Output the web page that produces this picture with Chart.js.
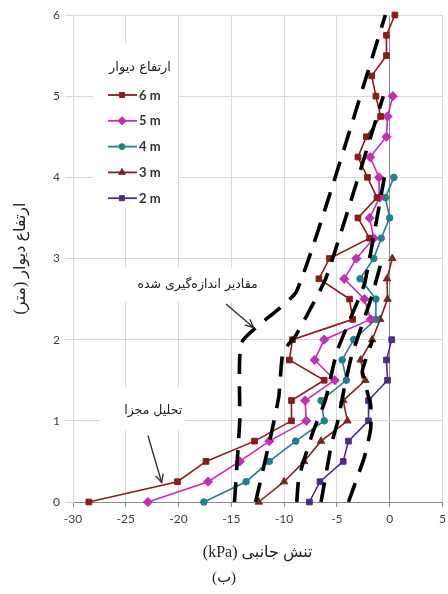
<!DOCTYPE html>
<html>
<head>
<meta charset="utf-8">
<script src="https://cdn.jsdelivr.net/npm/chart.js@4.4.1/dist/chart.umd.min.js"></script>
<style>
html,body{margin:0;padding:0;background:#fff;}
#wrap{width:448px;height:594px;position:relative;}
</style>
</head>
<body>
<div id="wrap"><canvas id="c" width="448" height="594"></canvas></div>
<script>
// ---- data (wall height in m on y, lateral stress in kPa on x) ----
const heightLevels = [0,0.25,0.5,0.75,1,1.25,1.5,1.75,2,2.25,2.5,2.75,3,3.25,3.5,3.75,4,4.25,4.5,4.75,5,5.25,5.5,5.75,6];
const wall6m = [-28.5,-20.1,-17.4,-12.8,-9.3,-9.3,-6.2,-9.5,-9.2,-3.5,-3.8,-6.7,-5.7,-1.9,-3.0,-1.2,-2.1,-3.0,-2.2,-0.85,-1.3,-1.7,-0.3,-0.3,0.5];
const wall5m = [-22.9,-17.2,-14.2,-11.4,-7.9,-8.0,-5.2,-7.1,-6.2,-1.8,-2.4,-4.3,-3.15,-1.5,-1.9,-0.95,-1.0,-1.85,-0.3,-0.2,0.3];
const wall4m = [-17.6,-13.6,-11.4,-8.9,-6.2,-6.5,-4.1,-4.5,-3.4,-1.3,-1.3,-2.8,-1.5,-0.8,0.0,-0.4,0.4];
const wall3m = [-12.4,-10.0,-8.1,-6.5,-4.0,-4.4,-2.3,-2.75,-1.65,-0.9,-0.2,-0.25,0.25];
const wall2m = [-7.6,-6.6,-4.4,-3.9,-2.0,-2.0,-0.2,-0.3,0.2];

// measured values (dashed)
const meas6mX = [-14.7,-14.2,-14.0,-8.8,-0.4];
const meas6mY = [0,1.0,1.97,2.6,6.0];
const meas5mX = [-12.7,-11.2,-10.5,-10.1,-8.9,-6.0,-0.6];
const meas5mY = [0,0.85,1.3,1.85,2.05,2.77,5.0];
const meas4mX = [-8.8,-8.6,-7.3,-6.1,-5.0,-3.1,-2.35,-0.5];
const meas4mY = [0,0.3,0.85,1.25,1.85,2.45,2.7,4.0];
const meas3mX = [-6.5,-5.5,-4.9,-4.3,-3.6,-1.7,-0.7];
const meas3mY = [0,0.72,1.0,1.4,1.8,2.53,3.0];
const meas2mX = [-3.9,-2.4,-1.8,-1.8,-2.6,-2.0,-1.6];
const meas2mY = [0,0.55,0.9,1.2,1.6,1.85,2.0];

const xTickValues = [-30,-25,-20,-15,-10,-5,0,5];
const yTickValues = [0,1,2,3,4,5,6];
const seriesLabels = ['6 m','5 m','4 m','3 m','2 m'];
const legendTitle = 'ارتفاع دیوار';
const xTitle = 'تنش جانبی (kPa)';
const yTitle = 'ارتفاع دیوار (متر)';
const panelLabel = '(ب)';
const measuredNote = 'مقادیر اندازه‌گیری شده';
const analysisNote = 'تحلیل مجزا';

// ---- styles ----
const seriesColors = ['#8b1c1c','#c42db5','#20808c','#7a2626','#4d2c86'];
const seriesShapes = ['rect','rectRot','circle','triangle','rect'];
const seriesRadius = [4,4.6,3.3,4.3,4];

function pts(xs, ys){ return xs.map((x,i)=>({x:x, y:ys[i]})); }

const seriesData = [wall6m, wall5m, wall4m, wall3m, wall2m];
const measured = [[meas6mX,meas6mY],[meas5mX,meas5mY],[meas4mX,meas4mY],[meas3mX,meas3mY],[meas2mX,meas2mY]];

const datasets = [];
measured.forEach((m,i)=>{
  datasets.push({
    label: 'measured ' + seriesLabels[i],
    data: pts(m[0], m[1]),
    showLine: true,
    borderColor: '#000',
    backgroundColor: '#000',
    borderWidth: 3.6,
    borderDash: [20,12],
    pointRadius: 0,
    tension: 0.15,
    order: 0,
    clip: false
  });
});
seriesData.forEach((vals,i)=>{
  datasets.push({
    label: seriesLabels[i],
    data: pts(vals, heightLevels.slice(0, vals.length)),
    showLine: true,
    borderColor: seriesColors[i],
    backgroundColor: seriesColors[i],
    borderWidth: 1.6,
    pointStyle: seriesShapes[i],
    pointRadius: seriesRadius[i],
    pointBorderWidth: 1,
    tension: 0,
    order: 1,
    clip: false
  });
});

function drawMarker(ctx, shape, x, y, r, color){
  ctx.save();
  ctx.fillStyle = color; ctx.strokeStyle = color; ctx.lineWidth = 1;
  ctx.beginPath();
  if (shape === 'rect'){ const s = Math.SQRT1_2*r; ctx.rect(x-s,y-s,2*s,2*s); }
  else if (shape === 'rectRot'){ ctx.moveTo(x,y-r); ctx.lineTo(x+r,y); ctx.lineTo(x,y+r); ctx.lineTo(x-r,y); ctx.closePath(); }
  else if (shape === 'circle'){ ctx.arc(x,y,r,0,Math.PI*2); }
  else if (shape === 'triangle'){ ctx.moveTo(x,y-r); ctx.lineTo(x+r*0.866,y+r*0.5); ctx.lineTo(x-r*0.866,y+r*0.5); ctx.closePath(); }
  ctx.fill(); ctx.stroke();
  ctx.restore();
}

function arrow(ctx, x1, y1, x2, y2){
  ctx.save();
  ctx.strokeStyle = '#2a2a2a'; ctx.lineWidth = 1.3;
  ctx.beginPath(); ctx.moveTo(x1,y1); ctx.lineTo(x2,y2); ctx.stroke();
  const a = Math.atan2(y2-y1, x2-x1), L = 9, w = 0.45;
  ctx.beginPath();
  ctx.moveTo(x2 - L*Math.cos(a-w), y2 - L*Math.sin(a-w));
  ctx.lineTo(x2, y2);
  ctx.lineTo(x2 - L*Math.cos(a+w), y2 - L*Math.sin(a+w));
  ctx.stroke();
  ctx.restore();
}

const persianFont = "'DejaVu Sans', 'Noto Sans', sans-serif";

const overlay = {
  id: 'overlay',
  beforeDatasetsDraw(chart){
    const ctx = chart.ctx, a = chart.chartArea, xs = chart.scales.x, ys = chart.scales.y;
    ctx.save();
    ctx.fillStyle = '#fff';
    ctx.fillRect(a.left + 20, a.top + 28, 85, 165);
    const b1l = xs.getPixelForValue(-25.7), b1r = xs.getPixelForValue(-12.2);
    const b1t = ys.getPixelForValue(2.88), b1b = ys.getPixelForValue(2.46);
    ctx.fillRect(b1l, b1t, b1r-b1l, b1b-b1t);
    const b2l = xs.getPixelForValue(-27.4), b2r = xs.getPixelForValue(-19.4);
    const b2t = ys.getPixelForValue(1.41), b2b = ys.getPixelForValue(0.88);
    ctx.fillRect(b2l, b2t, b2r-b2l, b2b-b2t);
    ctx.restore();
  },
  afterDraw(chart){
    const ctx = chart.ctx, a = chart.chartArea, xs = chart.scales.x, ys = chart.scales.y;
    const lx = a.left + 20, ly = a.top + 28;
    ctx.save();
    ctx.direction = 'rtl';
    ctx.fillStyle = '#222';
    ctx.font = '13px ' + persianFont;
    ctx.textAlign = 'center'; ctx.textBaseline = 'middle';
    ctx.fillText(legendTitle, lx + 47, ly + 25);
    ctx.restore();
    seriesLabels.forEach((lab,i)=>{
      const y = ly + 52 + i*25.8;
      ctx.save();
      ctx.strokeStyle = seriesColors[i]; ctx.lineWidth = 1.8;
      ctx.beginPath(); ctx.moveTo(lx + 15, y); ctx.lineTo(lx + 44, y); ctx.stroke();
      ctx.restore();
      drawMarker(ctx, seriesShapes[i], lx + 29, y, seriesRadius[i]*0.9, seriesColors[i]);
      ctx.save();
      ctx.fillStyle = '#333';
      ctx.font = 'bold 13px Lato, "Open Sans", sans-serif';
      ctx.textAlign = 'left'; ctx.textBaseline = 'middle';
      ctx.fillText(lab, lx + 46, y + 0.5);
      ctx.restore();
    });
    ctx.save();
    ctx.direction = 'rtl';
    ctx.fillStyle = '#222';
    ctx.font = '12.5px ' + persianFont;
    ctx.textAlign = 'center'; ctx.textBaseline = 'middle';
    ctx.fillText(measuredNote, xs.getPixelForValue(-18.2), ys.getPixelForValue(2.68));
    ctx.fillText(analysisNote, xs.getPixelForValue(-22.4), ys.getPixelForValue(1.12));
    ctx.restore();
    arrow(ctx, xs.getPixelForValue(-15.5), ys.getPixelForValue(2.44), xs.getPixelForValue(-12.9), ys.getPixelForValue(2.15));
    arrow(ctx, xs.getPixelForValue(-22.9), ys.getPixelForValue(0.82), xs.getPixelForValue(-21.6), ys.getPixelForValue(0.24));
  }
};

const tickFont = {family: 'Lato, "Open Sans", sans-serif', size: 12};

new Chart(document.getElementById('c'), {
  type: 'scatter',
  data: { datasets: datasets },
  options: {
    responsive: false,
    devicePixelRatio: 1,
    animation: false,
    events: [],
    layout: { padding: { top: 15, right: 0, left: 0, bottom: 0 } },
    plugins: {
      legend: { display: false },
      tooltip: { enabled: false },
      title: {
        display: true,
        position: 'bottom',
        text: panelLabel,
        color: '#222',
        font: { family: "'Liberation Serif', 'DejaVu Sans', serif", size: 15, weight: 'normal' },
        padding: { top: 0, bottom: 7 }
      }
    },
    scales: {
      x: {
        type: 'linear',
        min: -30, max: 5,
        afterBuildTicks: s => { s.ticks = xTickValues.map(v => ({value: v})); },
        afterFit: s => { s.height = 67; s.paddingRight = 3; s.paddingLeft = 0; },
        ticks: { color: '#404040', font: tickFont, padding: 5, maxRotation: 0 },
        grid: {
          color: c => (c.tick && c.tick.value === 0) ? '#8a8a8a' : '#d9d9d9',
          lineWidth: 1,
          tickLength: 5,
          tickColor: '#8a8a8a'
        },
        border: { color: '#8a8a8a', width: 1 },
        title: {
          display: true,
          text: '\u202B' + xTitle + '\u202C',
          color: '#222',
          font: { family: "'Liberation Serif', 'DejaVu Sans', serif", size: 16 },
          padding: { top: 0, bottom: 7 }
        }
      },
      y: {
        type: 'linear',
        min: 0, max: 6,
        afterBuildTicks: s => { s.ticks = yTickValues.map(v => ({value: v})); },
        afterFit: s => { s.width = 73; },
        ticks: { color: '#404040', font: tickFont, padding: 5 },
        grid: { color: '#d9d9d9', lineWidth: 1, tickLength: 8, tickColor: '#d9d9d9' },
        border: { color: '#d9d9d9', width: 1 },
        title: {
          display: true,
          text: '\u202B' + yTitle + '\u202C',
          color: '#222',
          font: { family: "'Liberation Serif', 'DejaVu Sans', serif", size: 16 },
          padding: { top: 11, bottom: 0 }
        }
      }
    }
  },
  plugins: [overlay]
});
</script>
</body>
</html>
